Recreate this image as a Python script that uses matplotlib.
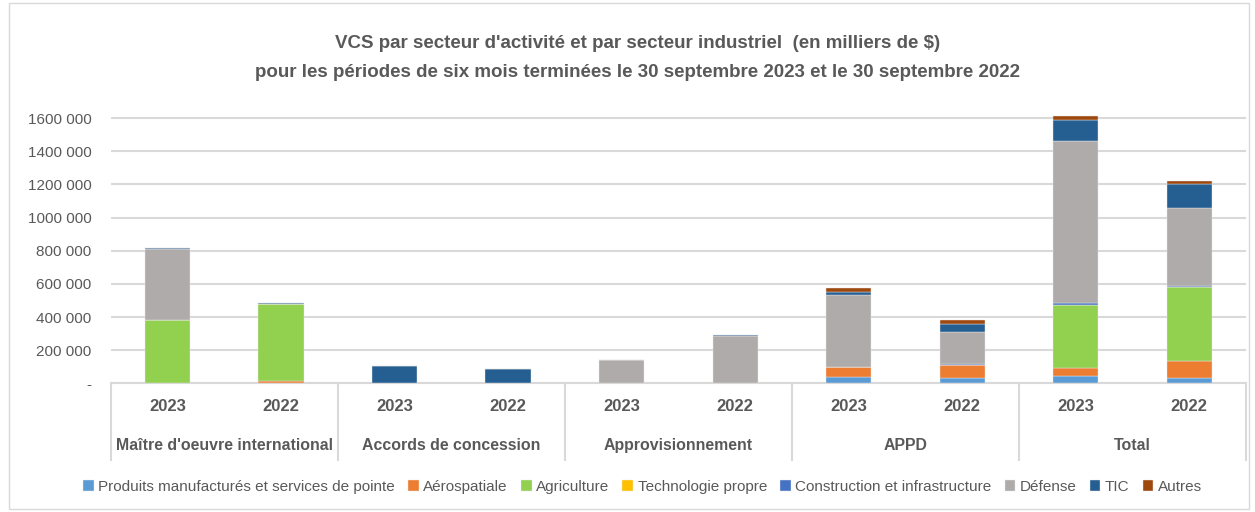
import numpy as np
import matplotlib
matplotlib.use('Agg')
from matplotlib import pyplot as plt
from matplotlib.patches import Rectangle
from matplotlib.transforms import blended_transform_factory

# Police proche de Calibri
plt.rcParams['font.family'] = ['Liberation Sans Narrow', 'Liberation Sans', 'DejaVu Sans']

# Données (en milliers de $)
groupes = ["Maître d'oeuvre international", "Accords de concession",
           "Approvisionnement", "APPD", "Total"]
annees = ["2023", "2022"]

series = ["Produits manufacturés et services de pointe", "Aérospatiale",
          "Agriculture", "Technologie propre", "Construction et infrastructure",
          "Défense", "TIC", "Autres"]

# Ordre des barres: M 2023, M 2022, AC 2023, AC 2022, Ap 2023, Ap 2022,
# APPD 2023, APPD 2022, Total 2023, Total 2022
produits     = [0,      0,      0,      0,     0,      0,      38000,  33000,  44000,  34000]
aerospatiale = [0,      12000,  0,      0,     0,      0,      58000,  77000,  50000,  102000]
agriculture  = [380000, 468000, 0,      0,     0,      0,      0,      0,      380000, 448000]
techno       = [0,      0,      0,      0,     0,      0,      0,      0,      0,      0]
construction = [0,      0,      0,      0,     0,      0,      5000,   6000,   10000,  6000]
defense      = [432000, 0,      0,      0,     140000, 287000, 430000, 194000, 980000, 470000]
tic          = [5000,   5000,   104000, 85000, 3000,   3000,   17000,  50000,  126000, 140000]
autres       = [0,      0,      0,      0,     0,      0,      26000,  20000,  24000,  24000]

valeurs = [produits, aerospatiale, agriculture, techno, construction, defense, tic, autres]
couleurs = ['#5B9BD5', '#ED7D31', '#92D050', '#FFC000', '#4472C4',
            '#AFABAB', '#255E91', '#9E480E']

gris_texte = '#595959'
gris_ligne = '#D9D9D9'

fig = plt.figure(figsize=(12.55, 5.12), dpi=100)
ax = fig.add_axes([0.0884, 0.2514, 0.9044, 0.5436])

x = np.arange(len(produits))
bas = np.zeros(len(produits))
for nom, v, c in zip(series, valeurs, couleurs):
    v = np.array(v, dtype=float)
    ax.bar(x, v, 0.4, bottom=bas, color=c, edgecolor='#E8E8E8', linewidth=0.3,
           label=nom, zorder=3)
    bas += v

ax.set_xlim(-0.5, len(x) - 0.5)
ax.set_ylim(0, 1680000)
yt = np.arange(0, 1600001, 200000)
ax.set_yticks(yt)
lab = ['-'] + ['%d %03d' % (v // 1000, v % 1000) for v in yt[1:]]
lab = [l.replace(' 000 000', '000') for l in lab]
ax.set_yticklabels(lab, fontsize=11, color=gris_texte)
ax.tick_params(axis='y', length=0, pad=14)
ax.tick_params(axis='x', length=0, labelbottom=False)
ax.grid(axis='y', color=gris_ligne, linewidth=1.5, zorder=0)
for s in ['top', 'right', 'left']:
    ax.spines[s].set_visible(False)
ax.spines['bottom'].set_color(gris_ligne)
ax.spines['bottom'].set_linewidth(1.5)

# Axe des catégories à deux niveaux
trans = blended_transform_factory(ax.transData, ax.transAxes)
for i in range(len(x)):
    ax.text(x[i], -0.085, annees[i % 2], transform=trans, ha='center', va='center',
            fontsize=12, fontweight='bold', color=gris_texte)
for g, nom in enumerate(groupes):
    ax.text(2 * g + 0.5, -0.222, nom, transform=trans, ha='center', va='center',
            fontsize=11.4, fontweight='bold', color=gris_texte)
for g in range(len(groupes) + 1):
    ax.plot([2 * g - 0.5, 2 * g - 0.5], [0, -0.275], transform=trans,
            color=gris_ligne, linewidth=1.5, clip_on=False)

# Titre
fig.text(0.508, 0.916, "VCS par secteur d'activité et par secteur industriel  (en milliers de $)",
         ha='center', va='center', fontsize=13.5, fontweight='bold', color=gris_texte)
fig.text(0.508, 0.859, "pour les périodes de six mois terminées le 30 septembre 2023 et le 30 septembre 2022",
         ha='center', va='center', fontsize=13.5, fontweight='bold', color=gris_texte)

# Légende
h, l = ax.get_legend_handles_labels()
leg = fig.legend(h, l, loc='center', bbox_to_anchor=(0.512, 0.049), ncol=8,
                 frameon=False, fontsize=11, handlelength=0.7, handleheight=0.7,
                 handletextpad=0.3, columnspacing=0.85, labelcolor=gris_texte)

# Cadre du graphique
fig.patches.append(Rectangle((0.007, 0.005), 0.988, 0.99, transform=fig.transFigure,
                             fill=False, edgecolor=gris_ligne, linewidth=1))

fig.savefig('out.png', dpi=100)
